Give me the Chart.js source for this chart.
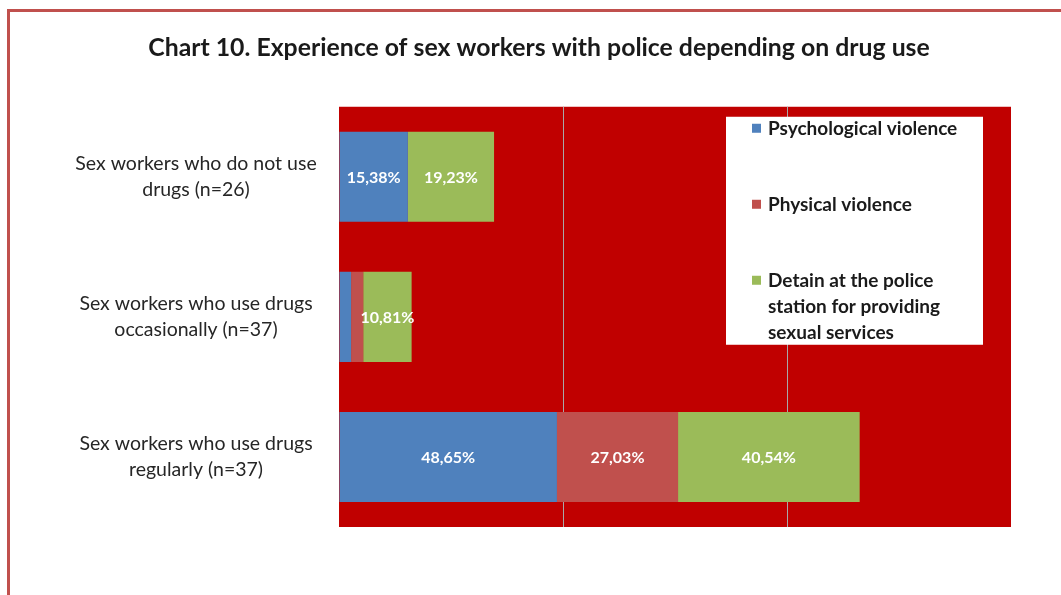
<!DOCTYPE html>
<html lang="en">
<head>
<meta charset="UTF-8">
<title>Chart 10. Experience of sex workers with police</title>
<script src="https://cdn.jsdelivr.net/npm/chart.js"></script>
<style>
body {
    margin: 0;
    background: #fff;
    width: 1061px;
    height: 595px;
    overflow: hidden;
    position: relative;
}
.frame {
    position: absolute;
    left: 7px;
    top: 9px;
    width: 1100px;
    height: 700px;
    border: 3px solid #c0504d;
    box-sizing: border-box;
}
#wrap {
    position: absolute;
    left: 10px;
    top: 12px;
}
</style>
</head>
<body>
<div class="frame"></div>
<div id="wrap"><canvas id="chart" width="1051" height="583"></canvas></div>
<script>
const categories = [
    ['Sex workers who do not use', 'drugs (n=26)'],
    ['Sex workers who use drugs', 'occasionally (n=37)'],
    ['Sex workers who use drugs', 'regularly (n=37)']
];
const seriesNames = [
    'Psychological violence',
    'Physical violence',
    'Detain at the police station for providing sexual services'
];
const psychological = [15.38, 2.70, 48.65];
const physical = [0, 2.70, 27.03];
const detained = [19.23, 10.81, 40.54];
const xTicks = [0, 50, 100, 150];

const colors = ['#4f81bd', '#c0504d', '#9bbb59'];
const FONT = 'Lato, "DejaVu Sans", sans-serif';

// centre the category labels around a fixed x
const measure = document.createElement('canvas').getContext('2d');
measure.font = '19.5px ' + FONT;
const widest = Math.max(...categories.flat().map(t => measure.measureText(t).width));
const padLeft = 57;
const axisWidth = 272;
const labelCentre = 186;

const plotBackground = {
    id: 'plotBackground',
    beforeDraw(chart) {
        const a = chart.chartArea, ctx = chart.ctx;
        ctx.save();
        ctx.fillStyle = '#c00000';
        ctx.fillRect(a.left, a.top, a.right - a.left, a.bottom - a.top);
        ctx.restore();
    }
};

const barLabels = {
    id: 'barLabels',
    afterDatasetsDraw(chart) {
        const ctx = chart.ctx;
        ctx.save();
        ctx.font = 'bold 16px ' + FONT;
        ctx.fillStyle = '#ffffff';
        ctx.textAlign = 'center';
        ctx.textBaseline = 'middle';
        chart.data.datasets.forEach((ds, i) => {
            chart.getDatasetMeta(i).data.forEach((bar, j) => {
                const v = ds.data[j];
                if (v < 5) return;
                const c = bar.getCenterPoint();
                ctx.fillText(v.toFixed(2).replace('.', ',') + '%', c.x, c.y + 1);
            });
        });
        ctx.restore();
    }
};

function wrapText(ctx, text, maxWidth) {
    const words = text.split(' ');
    const lines = [];
    let line = '';
    words.forEach(w => {
        const test = line ? line + ' ' + w : w;
        if (ctx.measureText(test).width > maxWidth && line) {
            lines.push(line);
            line = w;
        } else {
            line = test;
        }
    });
    lines.push(line);
    return lines;
}

const boxLegend = {
    id: 'boxLegend',
    afterDraw(chart) {
        const a = chart.chartArea, ctx = chart.ctx;
        const left = a.left + 387, top = a.top + 10;
        ctx.save();
        ctx.fillStyle = '#ffffff';
        ctx.fillRect(left, top, 257, 228);
        ctx.font = 'bold 19px ' + FONT;
        ctx.textBaseline = 'middle';
        ctx.textAlign = 'left';
        chart.data.datasets.forEach((ds, i) => {
            const y = top + 12 + i * 76;
            ctx.fillStyle = ds.backgroundColor;
            ctx.fillRect(left + 26, y - 5, 9, 9);
            ctx.fillStyle = '#1a1a1a';
            wrapText(ctx, ds.label, 205).forEach((ln, k) => {
                ctx.fillText(ln, left + 42, y + k * 26);
            });
        });
        ctx.restore();
    }
};

new Chart(document.getElementById('chart'), {
    type: 'bar',
    data: {
        labels: categories,
        datasets: [
            { label: seriesNames[0], data: psychological, backgroundColor: colors[0] },
            { label: seriesNames[1], data: physical, backgroundColor: colors[1] },
            { label: seriesNames[2], data: detained, backgroundColor: colors[2] }
        ]
    },
    options: {
        indexAxis: 'y',
        responsive: false,
        animation: false,
        categoryPercentage: 0.643,
        barPercentage: 1,
        layout: { padding: { left: padLeft, right: 50, top: 0, bottom: 68 } },
        scales: {
            x: {
                stacked: true,
                min: xTicks[0],
                max: xTicks[xTicks.length - 1],
                afterBuildTicks(scale) {
                    scale.ticks = xTicks.map(v => ({ value: v }));
                },
                ticks: { display: false },
                grid: {
                    drawTicks: false,
                    lineWidth: 1,
                    color: c => (c.tick && (c.tick.value === 50 || c.tick.value === 100)) ? '#a8a8a8' : 'rgba(0,0,0,0)'
                },
                border: { display: false }
            },
            y: {
                stacked: true,
                grid: { display: false, drawTicks: false },
                border: { display: false },
                afterFit(scale) { scale.width = axisWidth; },
                ticks: {
                    crossAlign: 'center',
                    padding: padLeft + axisWidth - labelCentre - widest / 2,
                    color: '#262626',
                    font: { family: FONT, size: 19.5, lineHeight: 1.35 }
                }
            }
        },
        plugins: {
            legend: { display: false },
            tooltip: { enabled: false },
            title: {
                display: true,
                text: 'Chart 10. Experience of sex workers with police depending on drug use',
                color: '#1a1a1a',
                font: { family: FONT, size: 24.8, weight: 'bold', lineHeight: 1.2 },
                padding: { top: 21, bottom: 44 }
            }
        }
    },
    plugins: [plotBackground, barLabels, boxLegend]
});
</script>
</body>
</html>
